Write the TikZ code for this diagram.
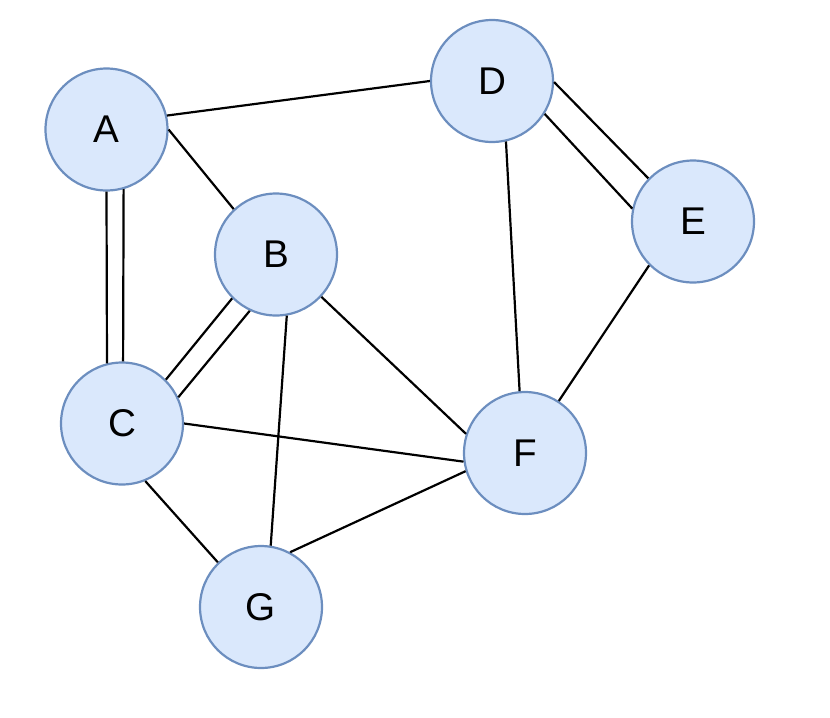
\documentclass[tikz,border=0pt]{standalone}
\usepackage{fontspec}
\setmainfont{Liberation Sans}
\usepackage{tikz}
\usetikzlibrary{arrows.meta}
\definecolor{Fill}{HTML}{DAE8FC}
\definecolor{Rim}{HTML}{6C8EBF}
\tikzset{
 vertex/.style={circle,draw=Rim,fill=Fill,line width=1.25pt,minimum size=2.44cm,
   inner sep=0pt,font=\fontsize{22}{26}\selectfont},
 link/.style={line width=1.25pt,draw=black}
}
\begin{document}
\begin{tikzpicture}[x=0.02cm,y=-0.02cm]
\useasboundingbox (0,0) rectangle (830,717);
\node[vertex] (A) at (106.5,129.5) {A};
\node[vertex] (B) at (276,254.5) {B};
\node[vertex] (C) at (122,423.5) {C};
\node[vertex] (D) at (492,81) {D};
\node[vertex] (E) at (693,221.5) {E};
\node[vertex] (F) at (525,453) {F};
\node[vertex] (G) at (261,607) {G};
% single edges
\draw[link] (A.13.5)--(D.180);\draw[link] (A.0)--(B.133);
\draw[link] (D.-77)--(F.95);\draw[link] (E.225)--(F.57);
\draw[link] (B.-43)--(F.162);\draw[link] (B.-80)--(G.81);
\draw[link] (C.0)--(F.188);\draw[link] (C.-68)--(G.134);
\draw[link] (G.62)--(F.197);
% double edges
\draw[link] (A.-90)--(C.104);\draw[link] (A.-74.6)--(C.89);
\draw[link] (B.225)--(C.45);\draw[link] (B.245)--(C.25);
\draw[link] (D.-1)--(E.136);\draw[link] (D.-32.5)--(E.168);
\end{tikzpicture}
\end{document}
